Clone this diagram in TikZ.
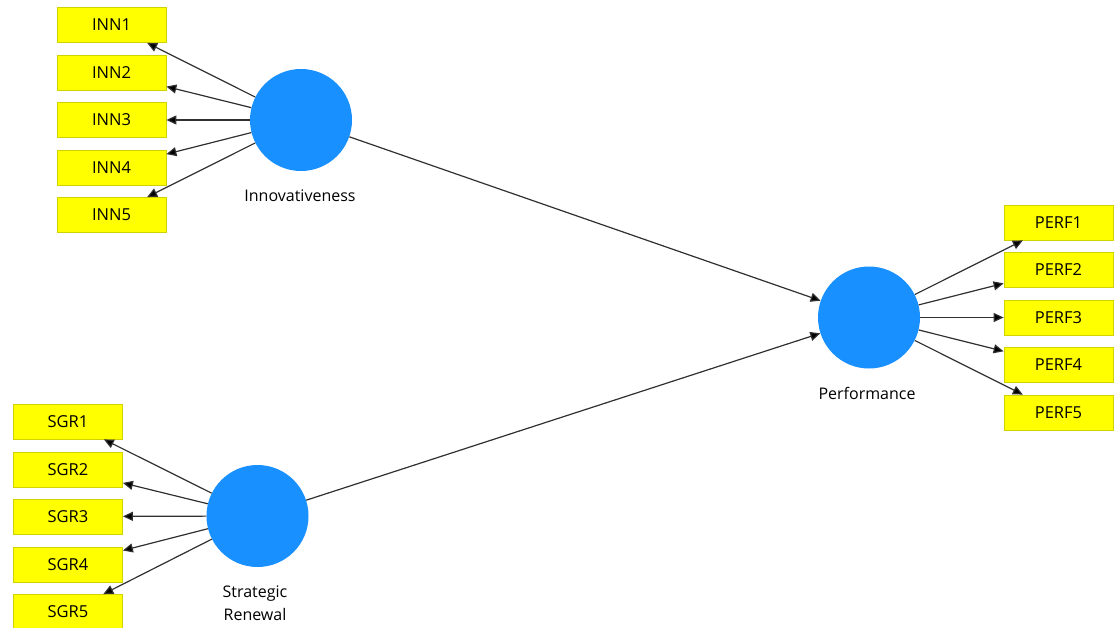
\documentclass[tikz,border=0pt]{standalone}
\usepackage{fontspec}
\setmainfont{Open Sans}
\usetikzlibrary{arrows.meta}
\definecolor{latblue}{HTML}{1890FF}
\definecolor{indyellow}{HTML}{FFFF00}
\definecolor{indborder}{HTML}{D2D200}
\definecolor{linegray}{HTML}{303030}
\tikzset{
  ind/.style={rectangle, draw=indborder, line width=0.8pt, fill=indyellow, minimum width=109pt, minimum height=35pt, inner sep=0pt, font=\fontsize{16.5}{19}\selectfont},
  lat/.style={circle, fill=latblue, minimum size=102pt, inner sep=0pt},
  lbl/.style={font=\fontsize{16}{23}\selectfont, align=center, inner sep=0pt},
  conn/.style={draw=linegray, line width=1.2pt, -{Triangle[length=10pt,width=9pt,fill=black]}},
}
\begin{document}
\begin{tikzpicture}[x=1pt,y=-1pt]
\useasboundingbox (0,0) rectangle (1115,628);
% latent variables
\node[lat] (inn) at (301,120) {};
\node[lat] (perf) at (869,317.5) {};
\node[lat] (sr) at (257.5,516) {};
\node[lbl] (innl) at (300,196) {Innovativeness};
\node[lbl] (perfl) at (867,393) {Performance};
\node[lbl] (srl) at (255,603.5) {Strategic\\Renewal};
% indicators
\node[ind] (inn1) at (111.5,25) {INN1};
\node[ind] (inn2) at (111.5,73) {INN2};
\node[ind] (inn3) at (111.5,120) {INN3};
\node[ind] (inn4) at (111.5,168) {INN4};
\node[ind] (inn5) at (111.5,215) {INN5};
\node[ind] (perf1) at (1058.5,222.5) {PERF1};
\node[ind] (perf2) at (1058.5,269.5) {PERF2};
\node[ind] (perf3) at (1058.5,317.5) {PERF3};
\node[ind] (perf4) at (1058.5,365) {PERF4};
\node[ind] (perf5) at (1058.5,412.5) {PERF5};
\node[ind] (sgr1) at (68,421.5) {SGR1};
\node[ind] (sgr2) at (68,469.5) {SGR2};
\node[ind] (sgr3) at (68,516.5) {SGR3};
\node[ind] (sgr4) at (68,564.5) {SGR4};
\node[ind] (sgr5) at (68,612) {SGR5};
% connectors
\foreach \i in {1,...,5} {
  \draw[conn] (inn) -- (inn\i);
  \draw[conn] (sr) -- (sgr\i);
  \draw[conn] (perf) -- (perf\i);
}
\draw[conn] (inn) -- (perf);
\draw[conn] (sr) -- (perf);
\end{tikzpicture}
\end{document}
